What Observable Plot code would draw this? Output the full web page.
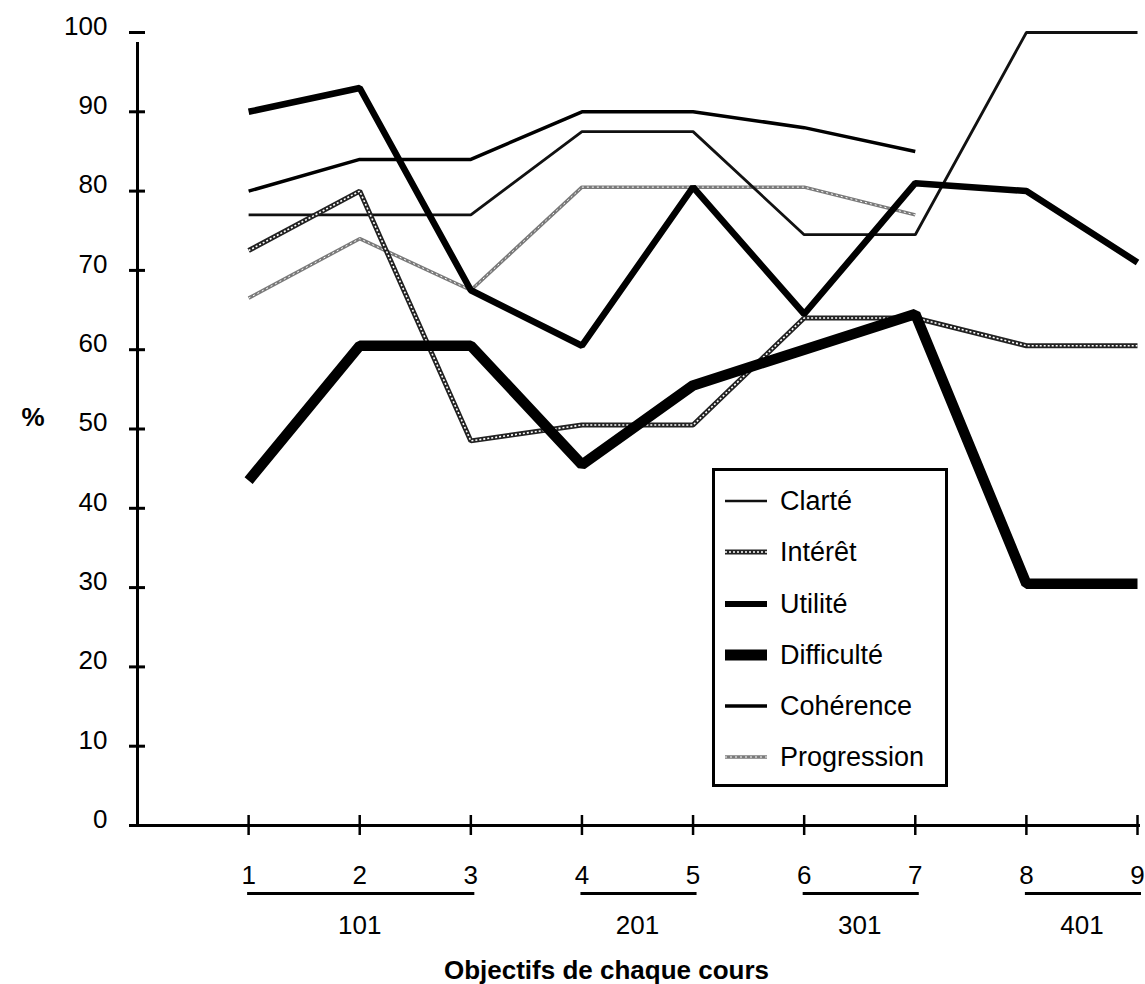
<!DOCTYPE html>
<html>
<head>
<meta charset="utf-8">
<script src="https://cdn.jsdelivr.net/npm/d3@7"></script>
<script src="https://cdn.jsdelivr.net/npm/@observablehq/plot@0.6"></script>
<style>
  html, body { margin: 0; padding: 0; background: #fff; }
  #wrap { position: relative; width: 1145px; height: 984px; font-family: "Liberation Sans Narrow", "Arial Narrow", "Liberation Sans", sans-serif; }
  #legend { position: absolute; left: 712px; top: 468px; width: 230px; height: 313px; border: 3px solid #000; background: #fff; }
  .row { position: absolute; left: 0; height: 40px; width: 100%; }
  .row svg { position: absolute; left: 8px; top: 0; }
  .row span { position: absolute; left: 65px; top: 4px; font-size: 27px; line-height: 32px; color: #000; }
</style>
</head>
<body>
<div id="wrap"><div id="legend"></div></div>
<script>
const objectifs = [1, 2, 3, 4, 5, 6, 7, 8, 9];
const clarte      = [77, 77, 77, 87.5, 87.5, 74.5, 74.5, 100, 100];
const interet     = [72.5, 80, 48.5, 50.5, 50.5, 64, 64, 60.5, 60.5];
const utilite     = [90, 93, 67.5, 60.5, 80.5, 64.5, 81, 80, 71];
const difficulte  = [43.5, 60.5, 60.5, 45.5, 55.5, 60, 64.5, 30.5, 30.5];
const coherence   = [80, 84, 84, 90, 90, 88, 85, null, null];
const progression = [66.5, 74, 67.5, 80.5, 80.5, 80.5, 77, null, null];
const yTicks = [0, 10, 20, 30, 40, 50, 60, 70, 80, 90, 100];
const cours = ["101", "201", "301", "401"];
const coursDebut = [1, 4, 6, 8];
const coursFin = [3, 5, 7, 9];
const seriesNames = ["Clarté", "Intérêt", "Utilité", "Difficulté", "Cohérence", "Progression"];
const seriesValues = [clarte, interet, utilite, difficulte, coherence, progression];

const rows = [];
seriesNames.forEach((name, i) => {
  objectifs.forEach((o, j) => {
    const v = seriesValues[i][j];
    if (v != null) rows.push({serie: name, objectif: o, valeur: v});
  });
});
const groups = cours.map((c, i) => ({cours: c, debut: coursDebut[i], fin: coursFin[i], mid: (coursDebut[i] + coursFin[i]) / 2}));
const of = name => rows.filter(d => d.serie === name);
const lineOpts = {x: "objectif", y: "valeur", stroke: "#000", strokeLinejoin: "miter", strokeLinecap: "butt"};
const font = '"Liberation Sans Narrow", "Arial Narrow", "Liberation Sans", sans-serif';

const chart = Plot.plot({
  width: 1145,
  height: 984,
  marginLeft: 137,
  marginRight: 8,
  marginTop: 32,
  marginBottom: 159,
  x: {domain: [0, 9]},
  y: {domain: [0, 100]},
  style: {fontFamily: font, fontSize: "26px", color: "#000", background: "#fff", overflow: "visible"},
  marks: [
    // axis lines
    Plot.ruleX([0], {y1: 0, y2: 100, strokeWidth: 3, insetBottom: -10}),
    Plot.ruleY([0], {x1: 0, x2: 9, strokeWidth: 3, insetLeft: -7, insetRight: -3}),
    // y ticks and labels
    Plot.axisY({ticks: yTicks, tickSize: 16, dx: 8, strokeWidth: 3, text: null, label: null}),
    Plot.axisY({ticks: yTicks, tickSize: 0, dx: 8, tickPadding: 38, dy: -6, tickFormat: d => String(d), fontSize: 26, label: null}),
    // x ticks and labels
    Plot.axisX({ticks: objectifs, tickSize: 20, dy: -10, strokeWidth: 2.5, text: null, label: null}),
    Plot.axisX({ticks: objectifs, tickSize: 0, tickPadding: 40, tickFormat: d => String(d), fontSize: 26, label: null}),
    // course underlines and labels
    Plot.ruleY(groups, {x1: "debut", x2: "fin", y: 0, dy: 68, strokeWidth: 3, insetRight: -4, insetLeft: -1}),
    Plot.text(groups, {x: "mid", y: 0, dy: 90, text: "cours", lineAnchor: "top", fontSize: 26}),
    Plot.text(["Objectifs de chaque cours"], {frameAnchor: "bottom", dx: -31, dy: 145, lineAnchor: "middle", fontWeight: "bold", fontSize: 26}),
    Plot.text(["%"], {frameAnchor: "left", dx: -116, dy: -11, fontSize: 26, fontWeight: "bold"}),
    // series
    Plot.line(of("Progression"), {...lineOpts, stroke: "#7a7a7a", strokeWidth: 3.5}),
    Plot.line(of("Progression"), {...lineOpts, stroke: "#fff", strokeWidth: 1, strokeDasharray: "2,3"}),
    Plot.line(of("Clarté"), {...lineOpts, strokeWidth: 2.8, stroke: "#111"}),
    Plot.line(of("Cohérence"), {...lineOpts, strokeWidth: 3.5}),
    Plot.line(of("Intérêt"), {...lineOpts, strokeWidth: 5, stroke: "#222"}),
    Plot.line(of("Intérêt"), {...lineOpts, strokeWidth: 1.6, stroke: "#fff", strokeDasharray: "2,2"}),
    Plot.line(of("Utilité"), {...lineOpts, strokeWidth: 6.5}),
    Plot.line(of("Difficulté"), {...lineOpts, strokeWidth: 10.5})
  ]
});
const wrap = document.getElementById("wrap");
wrap.insertBefore(chart, wrap.firstChild);

// legend
const legendStyles = {
  "Clarté": [{stroke: "#111", w: 2.5}],
  "Intérêt": [{stroke: "#222", w: 5}, {stroke: "#fff", w: 1.6, dash: "2,2"}],
  "Utilité": [{stroke: "#000", w: 6}],
  "Difficulté": [{stroke: "#000", w: 11}],
  "Cohérence": [{stroke: "#000", w: 3.5}],
  "Progression": [{stroke: "#7a7a7a", w: 3.5}, {stroke: "#fff", w: 1, dash: "2,3"}]
};
const legend = document.getElementById("legend");
const rowCenters = [30, 81, 133, 184, 235, 286];
seriesNames.forEach((name, i) => {
  const row = document.createElement("div");
  row.className = "row";
  row.style.top = (rowCenters[i] - 20) + "px";
  const ns = "http://www.w3.org/2000/svg";
  const svg = document.createElementNS(ns, "svg");
  svg.setAttribute("width", "46");
  svg.setAttribute("height", "40");
  legendStyles[name].forEach(s => {
    const l = document.createElementNS(ns, "line");
    l.setAttribute("x1", "2"); l.setAttribute("x2", "44");
    l.setAttribute("y1", "20"); l.setAttribute("y2", "20");
    l.setAttribute("stroke", s.stroke);
    l.setAttribute("stroke-width", s.w);
    if (s.dash) l.setAttribute("stroke-dasharray", s.dash);
    svg.appendChild(l);
  });
  const span = document.createElement("span");
  span.textContent = name;
  row.appendChild(svg);
  row.appendChild(span);
  legend.appendChild(row);
});
</script>
</body>
</html>
